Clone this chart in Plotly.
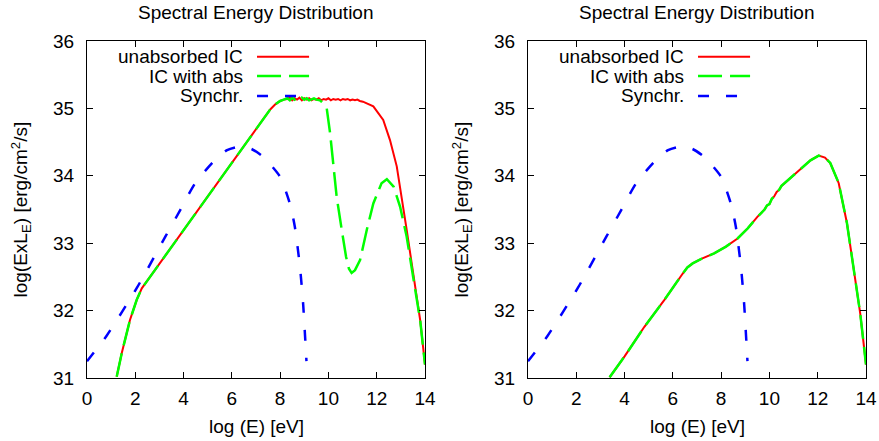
import plotly.graph_objects as go

# ---------------- data ----------------
# Synchrotron (same in both panels)
syn_x = [0, 0.8, 2.07, 3.25, 3.86, 4.48, 5.24, 5.8, 6.27, 6.8, 7.3, 7.99, 8.4, 8.61, 8.82, 8.95, 9.09]
syn_y = [31.25, 31.62, 32.34, 33.1, 33.49, 33.89, 34.21, 34.38, 34.43, 34.4, 34.28, 33.99, 33.59, 33.24, 32.65, 32.11, 31.25]

# Left panel: unabsorbed IC
left_ic_x = [1.23, 1.44, 1.78, 2.06, 2.27, 2.55, 3.16, 3.71, 5.0, 6.0, 7.0, 7.58, 7.8, 8.0, 8.15,
             8.3, 8.4, 8.5, 8.6, 8.7, 8.8, 8.9, 9.0, 9.1, 9.2, 9.3, 9.4, 9.5, 9.6, 9.7, 9.8, 9.9,
             10.0, 10.1, 10.2, 10.3, 10.4, 10.5, 10.6, 10.7, 10.8, 10.9, 11.0, 11.1, 11.2, 11.3, 11.43,
             11.86, 12.27, 12.55, 12.83, 13.04, 13.24, 13.45, 13.59, 13.8, 14.0]
left_ic_y = [31.02, 31.37, 31.86, 32.16, 32.33, 32.47, 32.78, 33.05, 33.7, 34.2, 34.7, 34.98, 35.06, 35.11, 35.13,
             35.14, 35.16, 35.12, 35.15, 35.13, 35.16, 35.12, 35.15, 35.13, 35.15, 35.12, 35.14, 35.13, 35.15, 35.12, 35.14, 35.13,
             35.15, 35.12, 35.14, 35.13, 35.14, 35.12, 35.14, 35.13, 35.14, 35.12, 35.13, 35.12, 35.13, 35.11, 35.1,
             35.03, 34.83, 34.53, 34.14, 33.69, 33.2, 32.7, 32.35, 31.86, 31.2]

# Left panel: IC with absorption
left_abs_x = [1.23, 1.44, 1.78, 2.06, 2.27, 2.55, 3.16, 3.71, 5.0, 6.0, 7.0, 7.58, 7.8, 8.0, 8.15,
              8.3, 8.4, 8.5, 8.6, 8.7, 8.8, 8.9, 9.0, 9.1, 9.2, 9.3, 9.4, 9.5, 9.65, 9.8, 9.93,
              10.07, 10.2, 10.34, 10.55, 10.73, 10.85, 10.96, 11.1, 11.31, 11.59, 11.86, 12.2, 12.42,
              12.7, 12.97, 13.24, 13.45, 13.59, 13.8, 14.0]
left_abs_y = [31.02, 31.37, 31.86, 32.16, 32.33, 32.47, 32.78, 33.05, 33.7, 34.2, 34.7, 34.98, 35.06, 35.11, 35.13,
              35.15, 35.12, 35.16, 35.13, 35.15, 35.12, 35.16, 35.13, 35.15, 35.12, 35.14, 35.15, 35.13, 35.12, 35.07, 35.0,
              34.63, 34.14, 33.69, 33.2, 32.8, 32.62, 32.56, 32.6, 32.75, 33.2, 33.59, 33.89, 33.95,
              33.84, 33.54, 33.1, 32.6, 32.32, 31.86, 31.2]

# Right panel: unabsorbed IC and IC with absorption (identical)
right_ic_x = [3.38, 4.0, 4.82, 5.65, 6.41, 6.6, 6.82, 7.2, 7.71, 8.2, 8.68, 9.1, 9.5, 9.8, 9.9, 10.0, 10.1,
              10.19, 10.3, 10.4, 10.5, 11.01, 11.7, 12.04, 12.3, 12.52, 12.87, 13.21, 13.48, 13.76, 14.0]
right_ic_y = [31.01, 31.32, 31.76, 32.16, 32.55, 32.64, 32.7, 32.77, 32.85, 32.95, 33.07, 33.22, 33.39, 33.5, 33.56, 33.58, 33.66,
              33.69, 33.76, 33.79, 33.85, 34.01, 34.23, 34.3, 34.27, 34.19, 33.89, 33.3, 32.65, 31.96, 31.2]
right_abs_x = right_ic_x
right_abs_y = right_ic_y

x_ticks = [0, 2, 4, 6, 8, 10, 12, 14]
y_ticks = [31, 32, 33, 34, 35, 36]

TITLE = "Spectral Energy Distribution"
XLABEL = "log (E) [eV]"
YLABEL = "log(ExL<sub>E</sub>) [erg/cm<sup>2</sup>/s]"
LEGEND = ["unabsorbed IC", "IC with abs", "Synchr."]

# ---------------- styling ----------------
FONT = "Liberation Sans, Arial, Helvetica, sans-serif"
FS = 19
RED = "#ff0000"
GREEN = "#00ff00"
BLUE = "#0000ff"
GREEN_DASH = "24px,8px"
BLUE_DASH = "11px,17px"

fig = go.Figure()

panels = [
    ("x", "y", left_ic_x, left_ic_y, left_abs_x, left_abs_y),
    ("x2", "y2", right_ic_x, right_ic_y, right_abs_x, right_abs_y),
]
for xa, ya, icx, icy, abx, aby in panels:
    fig.add_trace(go.Scatter(x=icx, y=icy, mode="lines", xaxis=xa, yaxis=ya,
                             line=dict(color=RED, width=2), showlegend=False))
    fig.add_trace(go.Scatter(x=abx, y=aby, mode="lines", xaxis=xa, yaxis=ya,
                             line=dict(color=GREEN, width=2.5, dash=GREEN_DASH), showlegend=False))
    fig.add_trace(go.Scatter(x=syn_x, y=syn_y, mode="lines", xaxis=xa, yaxis=ya,
                             line=dict(color=BLUE, width=2.5, dash=BLUE_DASH, shape="spline", smoothing=0.6),
                             showlegend=False))

axis_common = dict(showline=True, linecolor="black", linewidth=1, mirror="ticks",
                   ticks="inside", ticklen=6, tickwidth=1, tickcolor="black",
                   showgrid=False, zeroline=False, automargin=False,
                   tickfont=dict(family=FONT, size=FS, color="black"))

y_dom = [63 / 441, 400 / 441]
fig.update_layout(
    width=879, height=441,
    margin=dict(l=0, r=0, t=0, b=0, autoexpand=False),
    paper_bgcolor="white", plot_bgcolor="white",
    xaxis=dict(domain=[87 / 879, 425 / 879], range=[0, 14], tickvals=x_ticks, anchor="y",
               ticklabelstandoff=3, **axis_common),
    yaxis=dict(domain=y_dom, range=[31, 36], tickvals=y_ticks, anchor="x",
               ticklabelstandoff=8, **axis_common),
    xaxis2=dict(domain=[528 / 879, 866 / 879], range=[0, 14], tickvals=x_ticks, anchor="y2",
                ticklabelstandoff=3, **axis_common),
    yaxis2=dict(domain=y_dom, range=[31, 36], tickvals=y_ticks, anchor="x2",
                ticklabelstandoff=8, **axis_common),
    showlegend=False,
)

ann = []
shapes = []
legend_rows = [0.9534, 0.8961, 0.8368]
legend_styles = [dict(color=RED, width=2), dict(color=GREEN, width=2.5, dash=GREEN_DASH),
                 dict(color=BLUE, width=2.5, dash=BLUE_DASH)]
for i, (xa, ya) in enumerate([("x", "y"), ("x2", "y2")]):
    xd = f"{xa} domain"
    yd = f"{ya} domain"
    ann.append(dict(text=TITLE, xref=xd, x=0.5, yref="paper", y=(441 - 13) / 441,
                    xanchor="center", yanchor="middle", showarrow=False,
                    font=dict(family=FONT, size=FS, color="black")))
    ann.append(dict(text=XLABEL, xref=xd, x=0.5, yref="paper", y=(441 - 426) / 441,
                    xanchor="center", yanchor="middle", showarrow=False,
                    font=dict(family=FONT, size=FS, color="black")))
    ann.append(dict(text=YLABEL, xref="paper", x=(21 + 441 * i) / 879, yref=yd, y=0.5,
                    xanchor="center", yanchor="middle", textangle=-90, showarrow=False,
                    font=dict(family=FONT, size=FS, color="black")))
    for lab, ry, st in zip(LEGEND, legend_rows, legend_styles):
        ann.append(dict(text=lab, xref=xd, x=0.468, yref=yd, y=ry,
                        xanchor="right", yanchor="middle", showarrow=False,
                        font=dict(family=FONT, size=FS, color="black")))
        shapes.append(dict(type="line", xref=xd, yref=yd, x0=0.503, x1=0.657, y0=ry, y1=ry,
                           line=st))

fig.update_layout(annotations=ann, shapes=shapes)
fig.write_html("out.html", config={"displayModeBar": False},
               post_script="document.body.style.margin='0px';document.body.style.overflow='hidden';")
